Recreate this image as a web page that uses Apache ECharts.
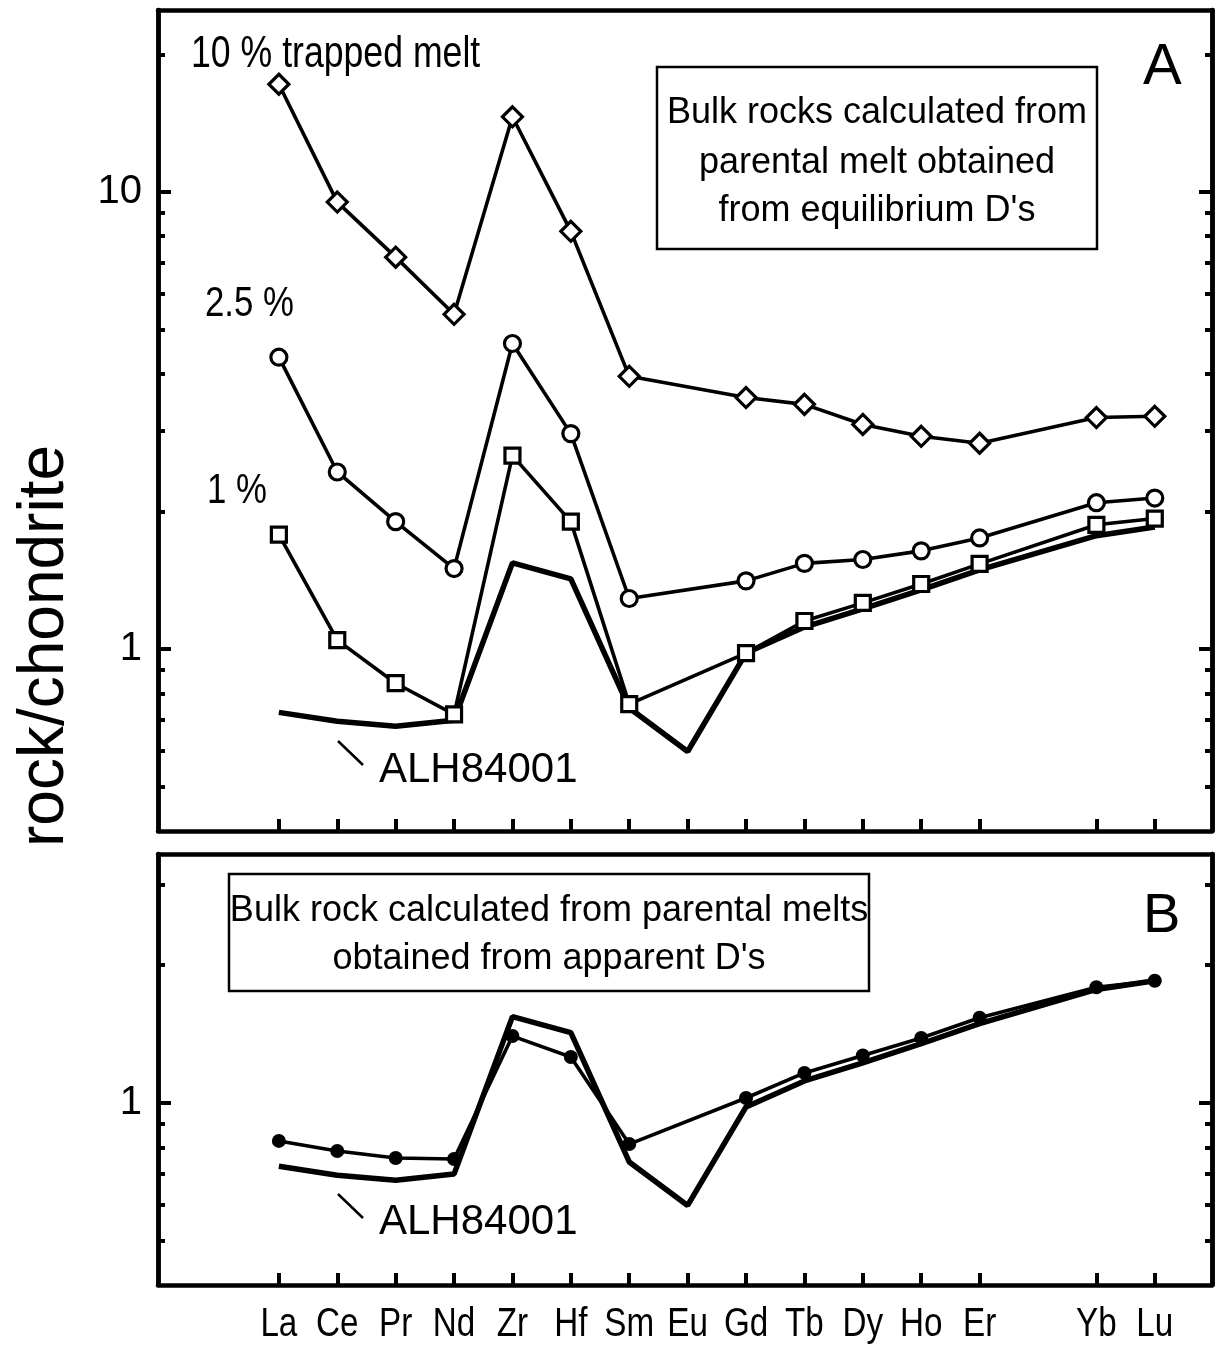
<!DOCTYPE html>
<html><head><meta charset="utf-8">
<script src="https://cdn.jsdelivr.net/npm/echarts@6/dist/echarts.min.js"></script>
<style>html,body{margin:0;padding:0;background:#fff}#c{width:1216px;height:1349px}</style>
</head><body><div id="c"></div>
<script>
// element order on the x axis (Tm not analysed, slot kept empty)
const elements = ['La','Ce','Pr','Nd','Zr','Hf','Sm','Eu','Gd','Tb','Dy','Ho','Er','Tm','Yb','Lu'];
// Panel A: bulk rocks from equilibrium D's
const trapped10 = [17.2, 9.5, 7.2, 5.4, 14.6, 8.2, 3.95, null, 3.55, 3.43, 3.10, 2.92, 2.82, null, 3.21, 3.23];
const trapped25 = [4.35, 2.44, 1.90, 1.50, 4.66, 2.96, 1.29, null, 1.41, 1.54, 1.57, 1.64, 1.75, null, 2.09, 2.14];
const trapped1  = [1.78, 1.046, 0.842, 0.720, 2.65, 1.90, 0.758, null, 0.98, 1.152, 1.262, 1.388, 1.536, null, 1.87, 1.93];
// ALH84001 measured pattern (both panels)
const alh84001  = [0.727, 0.695, 0.678, 0.699, 1.544, 1.424, 0.743, 0.597, 0.98, 1.117, 1.224, 1.347, 1.49, null, 1.77, 1.85];
// Panel B: bulk rock from apparent D's
const apparentD = [0.826, 0.785, 0.758, 0.754, 1.40, 1.26, 0.813, null, 1.025, 1.163, 1.27, 1.387, 1.535, null, 1.79, 1.85];
// tick values
const yMajorA = [1, 10];
const yMinorA = [0.5, 0.6, 0.7, 0.8, 0.9, 2, 3, 4, 5, 6, 7, 8, 9, 20];
const yMajorB = [1];
const yMinorB = [0.5, 0.6, 0.7, 0.8, 0.9, 2, 3];
const yMinA = 0.4, yMaxA = 25, yMinB = 0.4, yMaxB = 3.5;

const FONT = "'Liberation Sans', Arial, sans-serif";
const NARROW_SCALE = 0.81;
const xTicks = elements.map((e, i) => e === 'Tm' ? null : i).filter(v => v !== null);
const pairs = arr => arr.map((v, i) => v == null ? null : [i, v]).filter(Boolean);

const chart = echarts.init(document.getElementById('c'), null, {renderer: 'canvas'});
const AX = {show: true, onZero: false, lineStyle: {color: '#000', width: 4.5}};
const XMIN = -2.07, XMAX = 15.98;

function xAxes(gridIndex) {
  return [{
    type: 'value', gridIndex, position: 'bottom', min: XMIN, max: XMAX,
    splitLine: {show: false}, axisLine: AX,
    axisTick: {show: true, inside: true, length: 12, lineStyle: {width: 4, color: '#000'}, customValues: xTicks},
    axisLabel: {show: false}
  }, {
    type: 'value', gridIndex, position: 'top', min: XMIN, max: XMAX,
    splitLine: {show: false}, axisLine: AX, axisTick: {show: false}, axisLabel: {show: false}
  }];
}
function yAxes(gridIndex, min, max, minor, major) {
  const base = {type: 'log', logBase: 10, gridIndex, min, max, splitLine: {show: false}, axisLine: AX};
  const list = [];
  ['left', 'right'].forEach(pos => {
    list.push(Object.assign({}, base, {position: pos,
      axisTick: {show: true, inside: true, length: 7, lineStyle: {width: 4, color: '#000'}, customValues: minor},
      axisLabel: pos === 'left' ? {show: true, customValues: major, margin: 16, fontFamily: FONT, fontSize: 40, color: '#000'} : {show: false}
    }));
    list.push(Object.assign({}, base, {position: pos,
      axisTick: {show: true, inside: true, length: 13, lineStyle: {width: 4, color: '#000'}, customValues: major},
      axisLabel: {show: false}
    }));
  });
  return list;
}

const markerStyle = {color: '#fff', borderColor: '#000', borderWidth: 3.2};
function lineSeries(name, data, xi, yi, opts) {
  return Object.assign({
    name, type: 'line', xAxisIndex: xi, yAxisIndex: yi, data: pairs(data),
    lineStyle: {color: '#000', width: 3.6}, itemStyle: markerStyle, showSymbol: true,
    symbol: 'none', animation: false, silent: true, z: 3
  }, opts);
}

// element names under panel B, condensed like the original lettering
const labelSeries = {
  type: 'custom', xAxisIndex: 2, yAxisIndex: 4, silent: true, animation: false, clip: false,
  data: xTicks.map(i => [i, yMinB]),
  renderItem: (params, api) => {
    const p = api.coord([api.value(0), api.value(1)]);
    return {type: 'text', x: p[0], y: p[1] + 20, scaleX: 0.83,
      style: {text: elements[api.value(0)], font: '40px ' + FONT, fill: '#000', align: 'center', verticalAlign: 'top'}};
  }
};

function txt(text, x, baseline, size, align, scaleX) {
  const el = {type: 'text', x, y: baseline - 0.8 * size,
    style: {text, font: size + 'px ' + FONT, fill: '#000', align: align || 'left', verticalAlign: 'top'}};
  if (scaleX) el.scaleX = scaleX;
  return el;
}

const graphic = [
  txt('10 % trapped melt', 191, 68, 44, 'left', NARROW_SCALE),
  txt('2.5 %', 205, 317, 43, 'left', NARROW_SCALE),
  txt('1 %', 207, 504, 43, 'left', NARROW_SCALE),
  txt('ALH84001', 379, 783, 42),
  {type: 'line', shape: {x1: 338, y1: 741, x2: 363, y2: 765}, style: {stroke: '#000', lineWidth: 2.5}},
  txt('ALH84001', 379, 1235, 42),
  {type: 'line', shape: {x1: 338, y1: 1194, x2: 363, y2: 1218}, style: {stroke: '#000', lineWidth: 2.5}},
  txt('A', 1143, 85, 58),
  txt('B', 1143, 933, 56),
  {type: 'rect', shape: {x: 657, y: 67, width: 440, height: 182}, style: {fill: '#fff', stroke: '#000', lineWidth: 2.5}},
  txt('Bulk rocks calculated from', 877, 124, 36, 'center'),
  txt('parental melt obtained', 877, 174, 36, 'center'),
  txt("from equilibrium D's", 877, 222, 36, 'center'),
  {type: 'rect', shape: {x: 229, y: 874, width: 640, height: 117}, style: {fill: '#fff', stroke: '#000', lineWidth: 2.5}},
  txt('Bulk rock calculated from parental melts', 549, 922, 36, 'center'),
  txt("obtained from apparent D's", 549, 970, 36, 'center'),
  {type: 'text', x: 45, y: 646, rotation: Math.PI / 2,
    style: {text: 'rock/chondrite', font: '64px ' + FONT, fill: '#000', align: 'center', verticalAlign: 'middle'}}
];

const option = {
  backgroundColor: '#fff',
  animation: false,
  grid: [
    {left: 158, right: 4, top: 10, height: 821},
    {left: 158, right: 4, top: 854, height: 431}
  ],
  xAxis: [...xAxes(0), ...xAxes(1)],
  yAxis: [...yAxes(0, yMinA, yMaxA, yMinorA, yMajorA), ...yAxes(1, yMinB, yMaxB, yMinorB, yMajorB)],
  series: [
    lineSeries('ALH84001', alh84001, 0, 0, {lineStyle: {color: '#000', width: 5.5}, z: 2}),
    lineSeries('1 %', trapped1, 0, 0, {symbol: 'rect', symbolSize: 15}),
    lineSeries('2.5 %', trapped25, 0, 0, {symbol: 'circle', symbolSize: 16}),
    lineSeries('10 % trapped melt', trapped10, 0, 0, {symbol: 'diamond', symbolSize: 20}),
    lineSeries('ALH84001 B', alh84001, 2, 4, {lineStyle: {color: '#000', width: 5.5}, z: 2}),
    lineSeries('apparent D', apparentD, 2, 4, {symbol: 'circle', symbolSize: 14, itemStyle: {color: '#000'}}),
    labelSeries
  ],
  graphic
};
chart.setOption(option);
</script></body></html>
